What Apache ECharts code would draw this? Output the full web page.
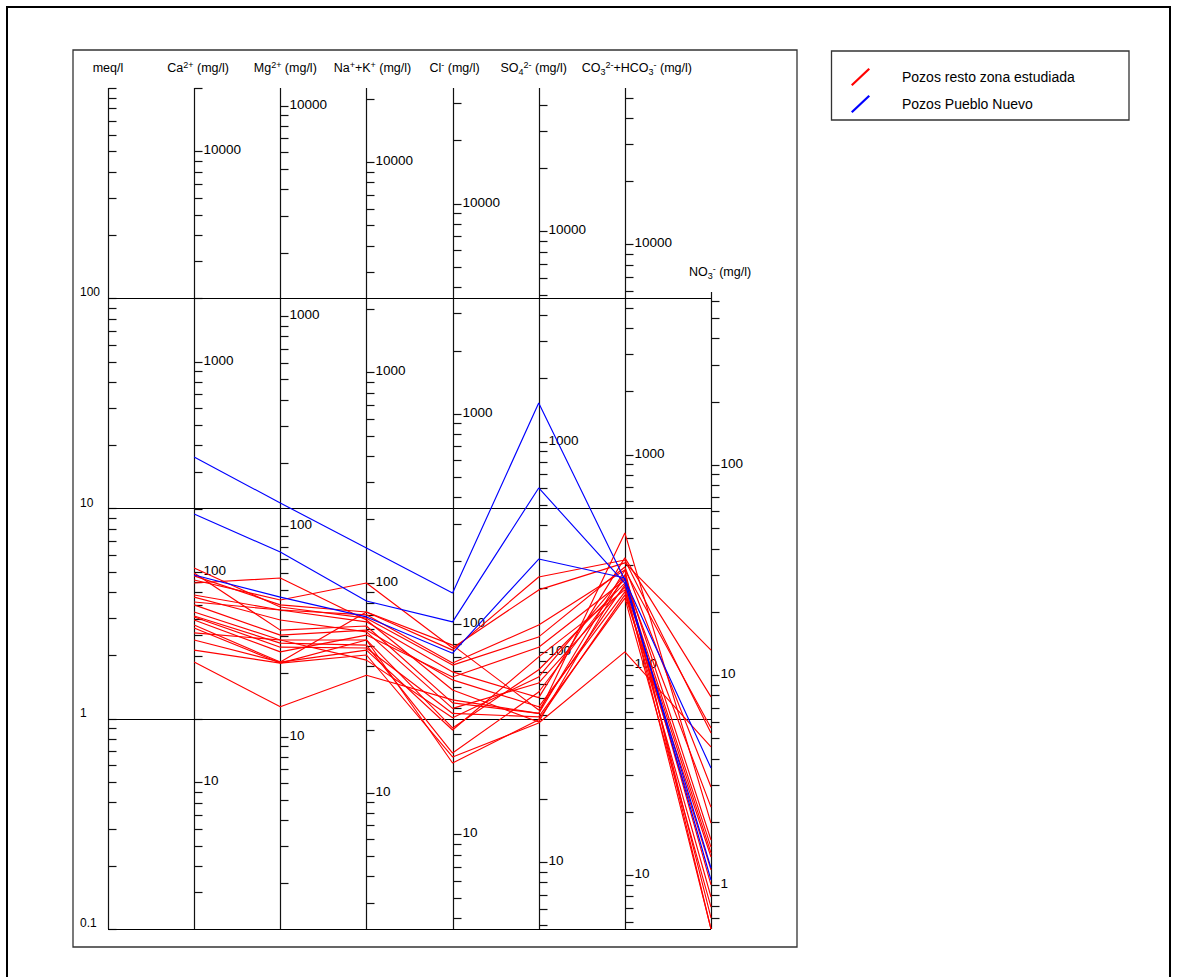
<!DOCTYPE html>
<html><head><meta charset="utf-8">
<script src="https://cdn.jsdelivr.net/npm/echarts@6/dist/echarts.min.js"></script>
<style>html,body{margin:0;padding:0;background:#fff}#c{width:1178px;height:977px}</style>
</head><body><div id="c"></div>
<script>
// Axis headers (rich text), mg/l per meq/l conversion factors of each vertical scale
const axisNames = [
  '{n|meq/l}',
  '{n|Ca}{sup|2+}{n| (mg/l)}',
  '{n|Mg}{sup|2+}{n| (mg/l)}',
  '{n|Na}{sup|+}{n|+K}{sup|+}{n| (mg/l)}',
  '{n|Cl}{sup|-}{n| (mg/l)}',
  '{n|SO}{sub|4}{sup|2-}{n| (mg/l)}',
  '{n|CO}{sub|3}{sup|2-}{n|+HCO}{sub|3}{sup|-}{n| (mg/l)}',
  '{n|NO}{sub|3}{sup|-}{n| (mg/l)}'
];
const mgFactors = [1, 20.04, 12.15, 22.5, 35.45, 48.03, 55.5, 6.2];
const axisTopMeq = [1000, 1000, 1000, 1000, 1000, 1000, 1000, 107];
const axisBottomMeq = [0.1, 0.1, 0.1, 0.1, 0.1, 0.1, 0.1, 0.1];
const gridValues = [0.1, 1, 10, 100];
const meqLabels = [0.1, 1, 10, 100];

// Concentrations in meq/l: Ca, Mg, Na+K, Cl, SO4, CO3+HCO3, NO3
const puebloNuevo = [
  [17.58, 10.62, 6.49, 3.96, 31.76, 4.57, 0.583],
  [9.42, 6.21, 3.63, 2.89, 12.52, 4.42, 0.195],
  [4.83, 3.79, 3.05, 2.05, 5.75, 4.67, 0.171]
];
const restoZona = [
  [5.21, 3.40, 3.01, 1.80, 2.45, 5.27, 0.474],
  [4.93, 2.64, 2.76, 1.19, 1.06, 7.65, 0.319],
  [4.78, 3.48, 3.22, 2.12, 4.72, 5.69, 0.855],
  [4.57, 3.67, 4.42, 2.17, 4.10, 5.51, 2.12],
  [4.42, 4.67, 2.95, 1.37, 0.965, 4.83, 0.265],
  [3.88, 3.29, 2.89, 1.67, 1.26, 5.82, 1.27],
  [3.79, 2.95, 2.59, 1.12, 1.48, 4.23, 0.230],
  [3.59, 3.29, 3.12, 1.84, 2.79, 5.10, 0.904],
  [3.48, 2.50, 2.64, 1.53, 1.14, 4.01, 0.191],
  [3.22, 2.37, 2.37, 0.904, 1.71, 4.42, 0.245],
  [3.08, 2.29, 2.24, 0.687, 1.34, 4.67, 0.162],
  [3.05, 2.19, 2.17, 1.06, 1.02, 3.75, 0.127],
  [2.95, 2.08, 2.50, 1.58, 2.19, 4.57, 0.380],
  [2.79, 1.86, 2.12, 0.884, 1.97, 4.10, 0.142],
  [2.70, 1.84, 2.01, 0.658, 0.954, 2.08, 0.734],
  [2.56, 2.37, 1.90, 1.01, 1.58, 4.83, 0.113],
  [2.37, 1.86, 3.22, 2.24, 1.10, 4.33, 0.100],
  [2.12, 1.84, 2.37, 0.616, 0.99, 3.88, 0.220],
  [1.86, 1.14, 1.61, 1.23, 1.06, 5.10, 0.100]
];
const legendNames = ['Pozos resto zona estudiada', 'Pozos Pueblo Nuevo'];

// layout only: horizontal shift of each header relative to its axis
const headerDx = [0, 4, 5, 6, 2, -5, 12, 9];

const FONT = '"Liberation Sans", Arial, sans-serif';

// tick marks (1..9 x 10^n in mg/l) for every vertical scale
const tickData = [];
mgFactors.forEach((f, i) => {
  const lo = axisBottomMeq[i] * f, hi = axisTopMeq[i] * f;
  for (let e = -2; e <= 6; e++) {
    for (let m = 1; m <= 9; m++) {
      const v = m * Math.pow(10, e);
      if (v >= lo * (1 - 1e-6) && v <= hi * (1 + 1e-6)) {
        tickData.push([i, v / f, (m === 1 && i > 0) ? 1 : 0, v]);
      }
    }
  }
});
const axisData = mgFactors.map((f, i) => [i, axisTopMeq[i], axisBottomMeq[i]]);

function mkLines(rows, name, color) {
  return rows.map(r => ({
    type: 'line', name, data: r.map((v, i) => [i + 1, v]),
    symbol: 'none', silent: true, z: 5,
    lineStyle: { color, width: 1.15 }, itemStyle: { color }
  }));
}

const chart = echarts.init(document.getElementById('c'), null, { renderer: 'svg' });
chart.setOption({
  animation: false,
  backgroundColor: '#fff',
  grid: { left: 108, right: 467, top: 88, bottom: 48 },
  xAxis: { type: 'value', min: 0, max: 7, show: false },
  yAxis: {
    type: 'log', logBase: 10, min: 0.1, max: 1000,
    axisLine: { show: false }, axisTick: { show: false }, splitLine: { show: false },
    axisLabel: {
      show: true, align: 'left', margin: 28, verticalAlign: 'bottom',
      fontSize: 12, fontFamily: FONT, color: '#000',
      formatter: v => (meqLabels.some(m => Math.abs(m - v) < 1e-9) ? String(v) : '')
    }
  },
  legend: {
    orient: 'vertical', left: 846, top: 63, itemWidth: 19, itemHeight: 18, itemGap: 9,
    icon: 'path://M0,16.5 L17.5,0 L19,1.5 L1.5,18 Z',
    selectedMode: false, data: legendNames,
    textStyle: { fontSize: 14, fontFamily: FONT, color: '#000', padding: [0, 0, 0, 27] }
  },
  graphic: [
    { type: 'rect', shape: { x: 7, y: 7, width: 1163, height: 1000 }, style: { fill: 'none', stroke: '#000', lineWidth: 2 }, silent: true },
    { type: 'rect', shape: { x: 73, y: 50, width: 724, height: 897 }, style: { fill: 'none', stroke: '#333', lineWidth: 1.3 }, silent: true },
    { type: 'rect', shape: { x: 831.5, y: 51, width: 297.5, height: 69 }, style: { fill: 'none', stroke: '#333', lineWidth: 1.3 }, silent: true }
  ],
  series: [
    {
      type: 'custom', name: 'axes', silent: true, clip: false, z: 3,
      data: axisData, encode: { x: 0, y: [1, 2] },
      renderItem: (params, api) => {
        const i = api.value(0);
        const p1 = api.coord([i, api.value(1)]);
        const p2 = api.coord([i, api.value(2)]);
        const x = Math.round(p1[0]) + 0.5;
        return {
          type: 'group', children: [
            { type: 'line', shape: { x1: x, y1: p1[1], x2: x, y2: p2[1] }, style: { stroke: '#111', lineWidth: 1.2 } },
            { type: 'text', style: {
              text: axisNames[i], x: p1[0] + headerDx[i], y: p1[1] - 20,
              align: 'center', verticalAlign: 'middle', textAlign: 'center', textVerticalAlign: 'middle',
              rich: {
                n: { fontSize: 12.5, fontFamily: FONT, fill: '#000', lineHeight: 16 },
                sup: { fontSize: 9, fontFamily: FONT, fill: '#000', lineHeight: 8, verticalAlign: 'top' },
                sub: { fontSize: 9, fontFamily: FONT, fill: '#000', lineHeight: 8, verticalAlign: 'bottom' }
              }
            } }
          ]
        };
      },
      markLine: {
        silent: true, symbol: ['none', 'none'], label: { show: false },
        lineStyle: { color: '#000', width: 1.2, type: 'solid' },
        data: gridValues.map(v => ({ yAxis: v }))
      }
    },
    {
      type: 'custom', name: 'ticks', silent: true, clip: false, z: 3,
      data: tickData, encode: { x: 0, y: 1 },
      renderItem: (params, api) => {
        const p = api.coord([api.value(0), api.value(1)]);
        const x = Math.round(p[0]) + 0.5;
        const y = Math.round(p[1]) + 0.5;
        const children = [{ type: 'line', shape: { x1: x, y1: y, x2: x + 8, y2: y }, style: { stroke: '#111', lineWidth: 1.2 } }];
        if (api.value(2) === 1) {
          const v = api.value(3);
          children.push({ type: 'text', style: {
            text: String(v >= 1 ? Math.round(v) : v), x: x + 9, y: y - 2,
            fill: '#000', font: '13.5px ' + FONT,
            align: 'left', verticalAlign: 'middle', textAlign: 'left', textVerticalAlign: 'middle'
          } });
        }
        return { type: 'group', children };
      }
    },
    ...mkLines(restoZona, legendNames[0], '#ff0000'),
    ...mkLines(puebloNuevo, legendNames[1], '#0000ff')
  ]
});
</script>
</body></html>
